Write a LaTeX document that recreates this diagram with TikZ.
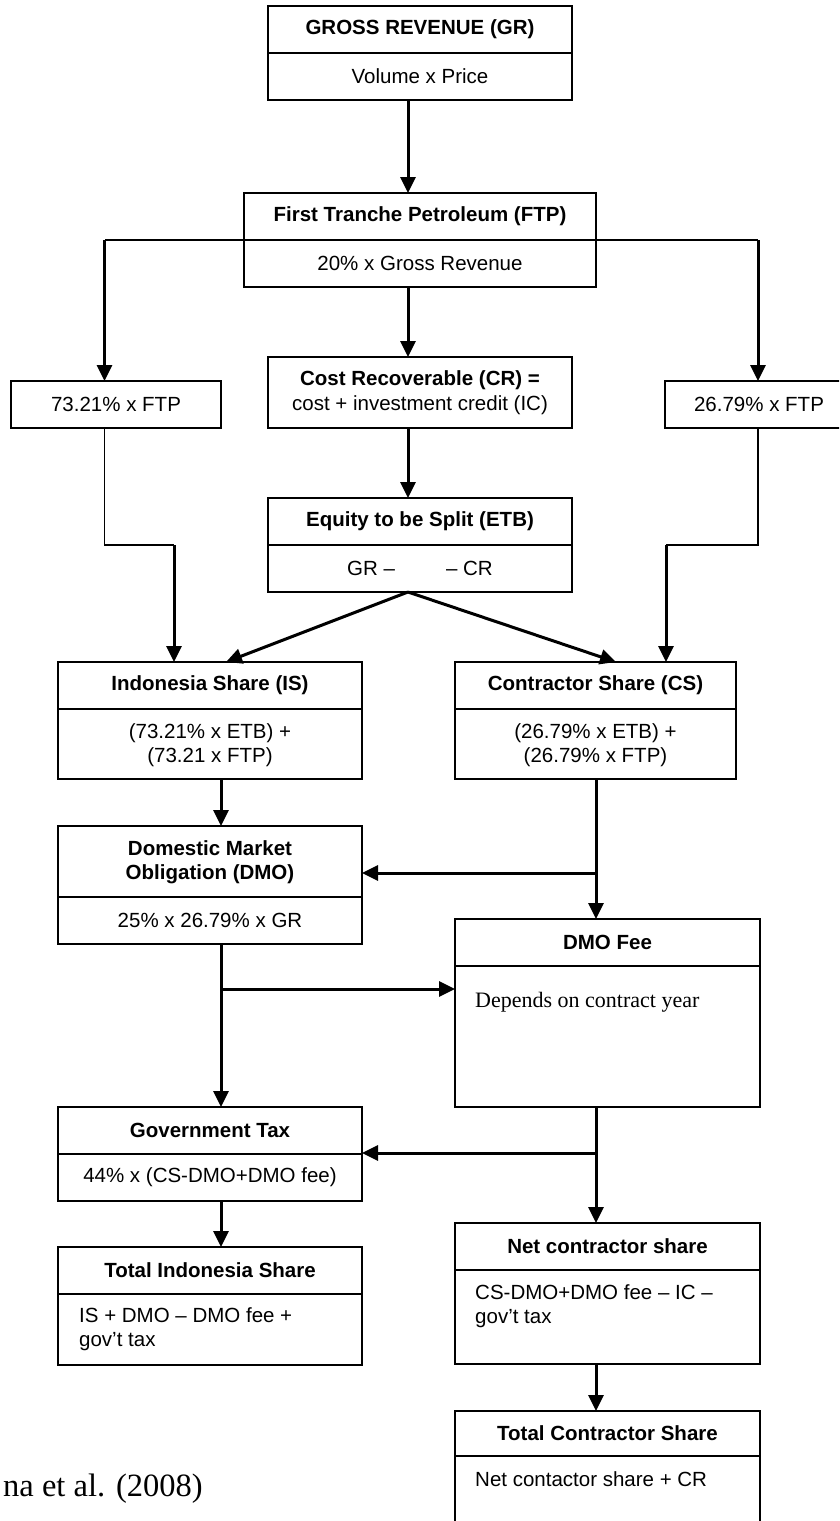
\documentclass[tikz,border=0pt]{standalone}
\usepackage{fontspec}
\setmainfont{Liberation Sans}
\newfontfamily\capserif{Liberation Serif}
\usetikzlibrary{arrows.meta,calc}
\newcommand{\fs}{\fontsize{20.5}{24}\selectfont}
\begin{document}
\begin{tikzpicture}[x=1pt,y=-1pt,
 box/.style={draw, line width=1.8pt, rectangle, inner sep=0pt, outer sep=0pt},
 sepline/.style={line width=1.8pt},
 ttl/.style={font=\fs\bfseries, align=center, inner sep=0pt},
 txt/.style={font=\fs, align=center, inner sep=0pt},
 ltxt/.style={font=\fs, align=left, inner sep=0pt, anchor=west},
 arr/.style={line width=3pt, -{Triangle[length=16pt,width=15pt]}},
 thinline/.style={line width=1.3pt},
]
\useasboundingbox (0,0) rectangle (839,1521);
\clip (0,0) rectangle (839,1521);

% boxes
\node[box, minimum width=304pt, minimum height=94pt] (gr) at (420,53) {};
\node[box, minimum width=352pt, minimum height=94pt] (ftp) at (420,240) {};
\node[box, minimum width=210pt, minimum height=47pt] (p73) at (116,404.5) {};
\node[box, minimum width=304pt, minimum height=71pt] (cr) at (420,392.5) {};
\node[box, minimum width=188pt, minimum height=47pt] (p26) at (759,404.5) {};
\node[box, minimum width=304pt, minimum height=94pt] (etb) at (420,545) {};
\node[box, minimum width=304pt, minimum height=117pt] (is) at (210,720.5) {};
\node[box, minimum width=281pt, minimum height=117pt] (cs) at (595.5,720.5) {};
\node[box, minimum width=304pt, minimum height=118pt] (dmo) at (210,885) {};
\node[box, minimum width=305pt, minimum height=188pt] (fee) at (607.5,1013) {};
\node[box, minimum width=304pt, minimum height=94pt] (tax) at (210,1154) {};
\node[box, minimum width=304pt, minimum height=118pt] (tis) at (210,1306) {};
\node[box, minimum width=305pt, minimum height=141pt] (ncs) at (607.5,1293.5) {};
\node[box, minimum width=305pt, minimum height=149pt] (tcs) at (607.5,1485.5) {};

% divider levels
\coordinate (dis) at (0,709);
\coordinate (ddmo) at (0,897);
\coordinate (dfee) at (0,966);
\coordinate (dtis) at (0,1294);
\coordinate (dncs) at (0,1270);
\coordinate (dtcs) at (0,1456);
\draw[sepline] (gr.west) -- (gr.east);
\draw[sepline] (ftp.west) -- (ftp.east);
\draw[sepline] (etb.west) -- (etb.east);
\draw[sepline] (tax.west) -- (tax.east);
\draw[sepline] (is.west |- dis) -- (is.east |- dis);
\draw[sepline] (cs.west |- dis) -- (cs.east |- dis);
\draw[sepline] (dmo.west |- ddmo) -- (dmo.east |- ddmo);
\draw[sepline] (fee.west |- dfee) -- (fee.east |- dfee);
\draw[sepline] (tis.west |- dtis) -- (tis.east |- dtis);
\draw[sepline] (ncs.west |- dncs) -- (ncs.east |- dncs);
\draw[sepline] (tcs.west |- dtcs) -- (tcs.east |- dtcs);

% texts
\node[ttl] (grT) at (420,29.5) {GROSS REVENUE (GR)};
\node[txt] (grB) at (420,76.5) {Volume x Price};
\node[ttl] (ftpT) at (420,216.5) {First Tranche Petroleum (FTP)};
\node[txt] (ftpB) at (420,263.5) {20\% x Gross Revenue};
\node[txt] (p73T) at (116,404.5) {73.21\% x FTP};
\node[txt] (p26T) at (759,404.5) {26.79\% x FTP};
\node[ttl] (crT) at (420,380) {Cost Recoverable (CR) =};
\node[txt] (crB) at (420,405) {cost + investment credit (IC)};
\node[ttl] (etbT) at (420,521.5) {Equity to be Split (ETB)};
\node[txt, anchor=west] (etbB1) at (347,568.5) {GR –};
\node[txt, anchor=east] (etbB2) at (493,568.5) {– CR};
\node[ttl] (isT) at (210,685.5) {Indonesia Share (IS)};
\node[txt] (isB) at (210,745) {(73.21\% x ETB) +\\(73.21 x FTP)};
\node[ttl] (csT) at (595.5,685.5) {Contractor Share (CS)};
\node[txt] (csB) at (595.5,745) {(26.79\% x ETB) +\\(26.79\% x FTP)};
\node[ttl] (dmoT) at (210,862) {Domestic Market\\Obligation (DMO)};
\node[txt] (dmoB) at (210,920.5) {25\% x 26.79\% x GR};
\node[ttl] (feeT) at (607.5,942.5) {DMO Fee};
\node[font=\capserif\fontsize{22}{26}\selectfont, anchor=base west, inner sep=0pt] (feeB) at (475,1007) {Depends on contract year};
\node[ttl] (taxT) at (210,1130.5) {Government Tax};
\node[txt] (taxB) at (210,1177.5) {44\% x (CS-DMO+DMO fee)};
\node[ttl] (tisT) at (210,1270.5) {Total Indonesia Share};
\node[ltxt] (tisB) at (79,1329.5) {IS + DMO – DMO fee +\\gov’t tax};
\node[ttl] (ncsT) at (607.5,1246.5) {Net contractor share};
\node[ltxt] (ncsB) at (475,1306.5) {CS-DMO+DMO fee – IC –\\gov’t tax};
\node[ttl] (tcsT) at (607.5,1433.5) {Total Contractor Share};
\node[ltxt] (tcsB) at (475,1479) {Net contactor share + CR};
\node[font=\capserif\fontsize{32.5}{40}\selectfont, anchor=base west, inner sep=0pt] (src) at (3,1496) {na et al. (2008)};

% connector coordinates
\coordinate (cx) at (408,0);
\coordinate (lx) at (221,0);
\coordinate (rx) at (596,0);
\coordinate (bl) at (104.5,240);
\coordinate (br) at (758,240);
\coordinate (bl2) at (104.5,545);
\coordinate (bl3) at (174,545);
\coordinate (br2) at (758,545);
\coordinate (br3) at (666,545);
\coordinate (isx) at (226,0);
\coordinate (csx) at (616,0);
\coordinate (j1) at (596,873);
\coordinate (j2) at (221,989);
\coordinate (j3) at (596,1153);

% connectors
\draw[arr] (gr.south -| cx) -- (ftp.north -| cx);
\draw[thinline] (ftp.west) -- (bl);
\draw[arr] (bl) -- (p73.north -| bl);
\draw[thinline] (ftp.east) -- (br);
\draw[arr] (br) -- (p26.north -| br);
\draw[arr] (ftp.south -| cx) -- (cr.north -| cx);
\draw[arr] (cr.south -| cx) -- (etb.north -| cx);
\draw[thinline] (p73.south -| bl) -- (bl2) -- (bl3);
\draw[arr] (bl3) -- (is.north -| bl3);
\draw[thinline] (p26.south -| br) -- (br2) -- (br3);
\draw[arr] (br3) -- (cs.north -| br3);
\draw[arr] (etb.south -| cx) -- (is.north -| isx);
\draw[arr] (etb.south -| cx) -- (cs.north -| csx);
\draw[arr] (is.south -| lx) -- (dmo.north -| lx);
\draw[arr] (cs.south -| rx) -- (fee.north -| rx);
\draw[arr] (j1) -- (dmo.east |- j1);
\draw[arr] (dmo.south -| lx) -- (tax.north -| lx);
\draw[arr] (j2) -- (fee.west |- j2);
\draw[arr] (fee.south -| rx) -- (ncs.north -| rx);
\draw[arr] (j3) -- (tax.east |- j3);
\draw[arr] (tax.south -| lx) -- (tis.north -| lx);
\draw[arr] (ncs.south -| rx) -- (tcs.north -| rx);
\end{tikzpicture}
\end{document}
